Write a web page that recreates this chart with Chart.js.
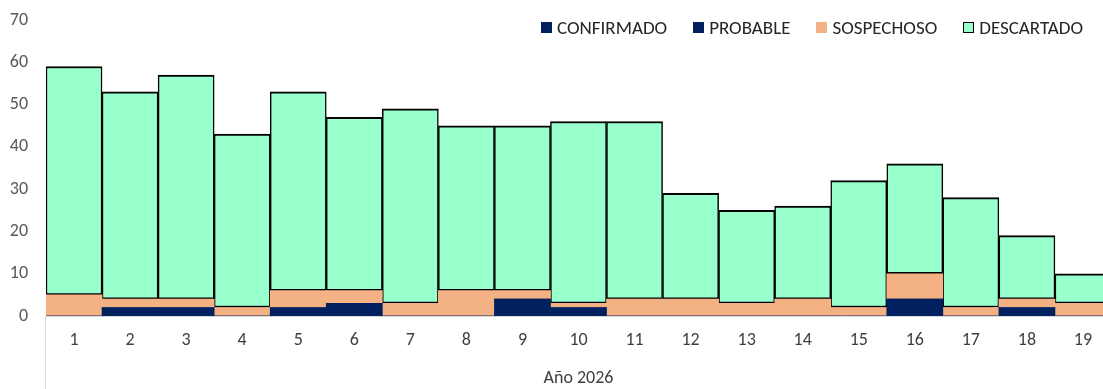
<!DOCTYPE html>
<html>
<head>
<meta charset="utf-8">
<script src="https://cdn.jsdelivr.net/npm/chart.js@4.4.1/dist/chart.umd.min.js"></script>
<style>
    html, body { margin: 0; padding: 0; background: #fff; overflow: hidden; }
    .wrap { position: relative; width: 1112px; height: 389px; }
    #legend {
        position: absolute; top: 16px; left: 541px;
        display: flex; align-items: center;
        font-family: Carlito, "Open Sans", sans-serif; font-size: 19px; color: #262626;
    }
    #legend .item { display: flex; align-items: center; margin-right: 26px; white-space: nowrap; }
    #legend .box { width: 11px; height: 11px; margin-right: 5px; box-sizing: border-box; }
</style>
</head>
<body>
<div class="wrap">
    <canvas id="casos-chart" width="1112" height="389"></canvas>
    <div id="legend"></div>
</div>
<script>
// --- datos ---
const semanas = ['1','2','3','4','5','6','7','8','9','10','11','12','13','14','15','16','17','18','19'];
const confirmado = [0, 2, 2, 0, 2, 3, 0, 0, 4, 2, 0, 0, 0, 0, 0, 4, 0, 2, 0];
const probable   = [0, 0, 0, 0, 0, 0, 0, 0, 0, 0, 0, 0, 0, 0, 0, 0, 0, 0, 0];
const sospechoso = [5, 2, 2, 2, 4, 3, 3, 6, 2, 1, 4, 4, 3, 4, 2, 6, 2, 2, 3];
const descartado = [54, 49, 53, 41, 47, 41, 46, 39, 39, 43, 42, 25, 22, 22, 30, 26, 26, 15, 7];
const yTicks = [0, 10, 20, 30, 40, 50, 60, 70];
const tituloX = 'Año 2026';

const fuente = 'Carlito, "Open Sans", sans-serif';

document.addEventListener('DOMContentLoaded', () => {
    const ctx = document.getElementById('casos-chart');

    // linea divisoria a la izquierda del eje de categorias (estilo Excel)
    const divisor = {
        id: 'divisor',
        afterDraw(chart) {
            const c = chart.ctx;
            const a = chart.chartArea;
            c.save();
            c.strokeStyle = '#d9d9d9';
            c.lineWidth = 1;
            c.beginPath();
            c.moveTo(a.left - 0.5, a.bottom);
            c.lineTo(a.left - 0.5, chart.height);
            c.stroke();
            c.restore();
        }
    };

    const datasets = [
        { label: 'CONFIRMADO', data: confirmado, backgroundColor: '#002060', borderWidth: 0 },
        { label: 'PROBABLE', data: probable, backgroundColor: '#002060', borderWidth: 0 },
        { label: 'SOSPECHOSO', data: sospechoso, backgroundColor: '#F4B183', borderWidth: 0 },
        {
            label: 'DESCARTADO', data: descartado, backgroundColor: '#99FFCC',
            borderColor: '#000000',
            borderWidth: { top: 2, bottom: 2, left: 1.5, right: 1.5 },
            borderSkipped: false
        }
    ];

    new Chart(ctx, {
        type: 'bar',
        data: { labels: semanas, datasets: datasets },
        options: {
            responsive: false,
            animation: false,
            layout: { padding: { top: 20, left: 0, right: 1, bottom: 0 } },
            datasets: { bar: { barPercentage: 1, categoryPercentage: 1 } },
            scales: {
                x: {
                    stacked: true,
                    afterFit: (s) => { s.height = 73; },
                    grid: { display: false, drawTicks: false },
                    border: { display: true, color: '#d9d9d9', width: 1 },
                    ticks: { color: '#404040', font: { family: fuente, size: 18 }, padding: 14, maxRotation: 0 },
                    title: {
                        display: true, text: tituloX, color: '#404040',
                        font: { family: fuente, size: 18 }, padding: { top: 20, bottom: 0 }
                    }
                },
                y: {
                    stacked: true,
                    min: 0, max: 70,
                    afterBuildTicks: (s) => { s.ticks = yTicks.map(v => ({ value: v })); },
                    afterFit: (s) => { s.width = 46; s.paddingTop = 0; s.paddingBottom = 0; },
                    grid: { display: false, drawTicks: false },
                    border: { display: false },
                    ticks: { color: '#595959', font: { family: fuente, size: 18 }, padding: 18 }
                }
            },
            plugins: {
                legend: { display: false },
                tooltip: { enabled: false }
            }
        },
        plugins: [divisor]
    });

    // leyenda en HTML sobre el grafico
    const leyenda = document.getElementById('legend');
    datasets.forEach(ds => {
        const item = document.createElement('div');
        item.className = 'item';
        const box = document.createElement('span');
        box.className = 'box';
        box.style.background = ds.backgroundColor;
        if (ds.borderColor) box.style.border = '1.5px solid ' + ds.borderColor;
        const txt = document.createElement('span');
        txt.textContent = ds.label;
        item.appendChild(box);
        item.appendChild(txt);
        leyenda.appendChild(item);
    });
});
</script>
</body>
</html>
